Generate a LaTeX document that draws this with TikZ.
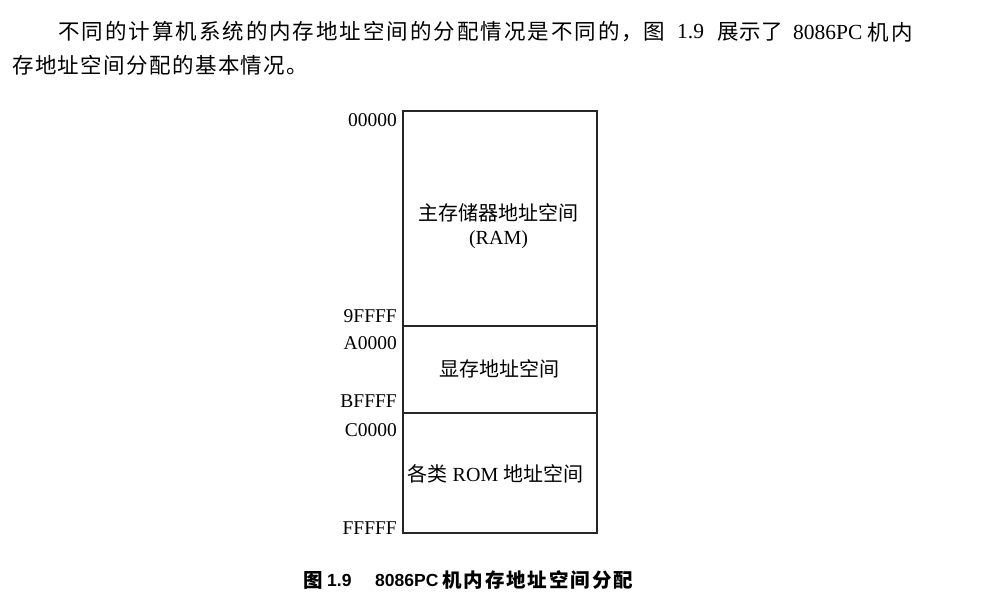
\documentclass[tikz,border=0pt]{standalone}
\usepackage{fontspec}
\setmainfont{Liberation Serif}
\setsansfont{Liberation Sans}
\newfontfamily\cjk{Noto Sans CJK SC}
\begin{document}
\begin{tikzpicture}[x=1pt,y=-1pt,
  region/.style={draw=black!85, line width=1.3pt, minimum width=194pt, inner sep=0pt},
  addr/.style={anchor=east, inner sep=0pt, font=\fontsize{19.5}{22}\selectfont},
  boxtext/.style={inner sep=0pt, font=\fontsize{20}{24}\selectfont},
  para/.style={anchor=west, inner sep=0pt, font=\fontsize{21.5}{24}\selectfont},
  captext/.style={anchor=west, inner sep=0pt, font=\fontsize{17.5}{20}\selectfont\sffamily\bfseries},
  capcjk/.style={anchor=west, inner sep=0pt, font=\fontsize{19.5}{20}\selectfont\bfseries}]
\useasboundingbox (0,0) rectangle (984,608);
\fill[white] (0,0) rectangle (984,608);
% paragraph
\node[para] (p1a) at (58,32) {\cjk\hbox to 585pt{不\hfil 同\hfil 的\hfil 计\hfil 算\hfil 机\hfil 系\hfil 统\hfil 的\hfil 内\hfil 存\hfil 地\hfil 址\hfil 空\hfil 间\hfil 的\hfil 分\hfil 配\hfil 情\hfil 况\hfil 是\hfil 不\hfil 同\hfil 的\hfil ，}};
\node[para] (p1b) at (643,32) {\cjk 图};
\node[para] (p1c) at (677,32) {1.9};
\node[para] (p1d) at (717,32) {\cjk\hbox to 66pt{展\hfil 示\hfil 了}};
\node[para] (p1e) at (793,32) {8086PC};
\node[para] (p1f) at (867,32) {\cjk\hbox to 46pt{机\hfil 内}};
\node[para] (p2) at (12,65.5) {\cjk\hbox to 296pt{存\hfil 地\hfil 址\hfil 空\hfil 间\hfil 分\hfil 配\hfil 的\hfil 基\hfil 本\hfil 情\hfil 况\hfil 。}};
% memory map
\node[region, minimum height=215pt] (ram) at (500,218.5) {};
\node[region, minimum height=87pt] (vram) at (500,369.5) {};
\node[region, minimum height=120pt] (rom) at (500,473) {};
\node[boxtext] (t1) at (498,213) {\cjk 主存储器地址空间};
\node[boxtext] (t2) at (498.5,240) {(RAM)};
\node[boxtext] (t3) at (499,369) {\cjk 显存地址空间};
\node[boxtext] (t4) at (495.5,474) {{\cjk 各类} ROM {\cjk 地址空间}};
% addresses
\node[addr] (a1) at (397,120) {00000};
\node[addr] (a2) at (397,316) {9FFFF};
\node[addr] (a3) at (397,343) {A0000};
\node[addr] (a4) at (397,401) {BFFFF};
\node[addr] (a5) at (397,430) {C0000};
\node[addr] (a6) at (397,528) {FFFFF};
% caption
\node[capcjk] (c1) at (303,580.5) {\cjk 图};
\node[captext] (c2) at (327,580.5) {1.9};
\node[captext] (c3) at (375,580.5) {8086PC};
\node[capcjk] (c4) at (442,580.5) {\cjk\hbox to 191pt{机\hfil 内\hfil 存\hfil 地\hfil 址\hfil 空\hfil 间\hfil 分\hfil 配}};
\end{tikzpicture}
\end{document}
